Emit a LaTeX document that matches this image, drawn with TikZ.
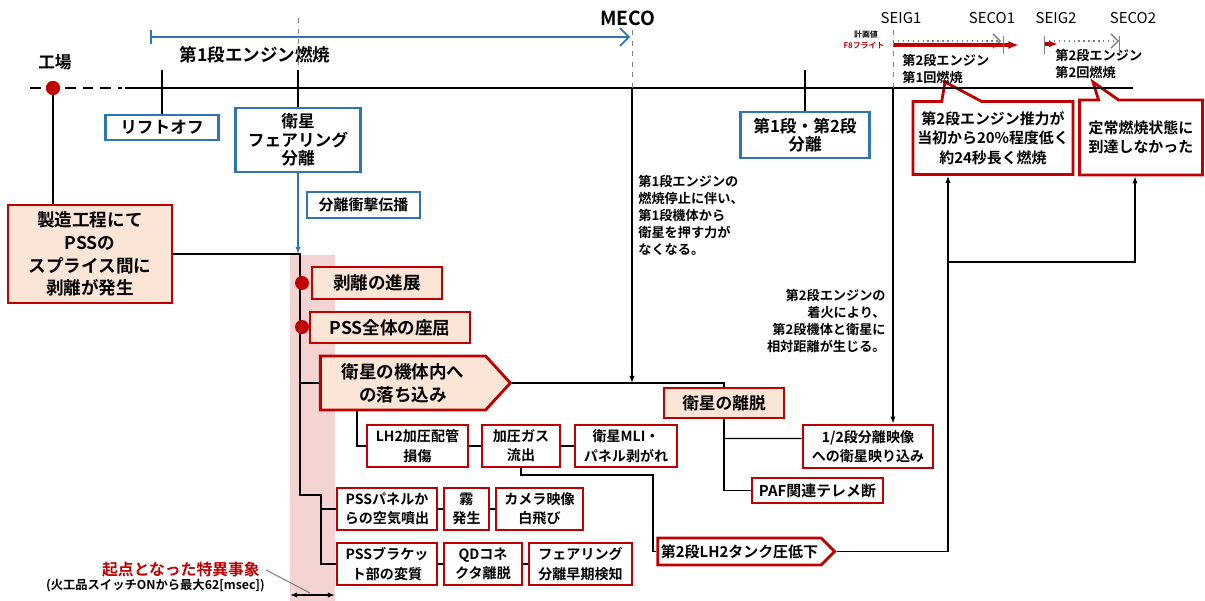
\documentclass[tikz,border=0pt]{standalone}
\usepackage{fontspec}
\setmainfont{Noto Sans CJK JP}[BoldFont={Noto Sans CJK JP Bold}]
\usetikzlibrary{arrows.meta,shapes.arrows,shapes.callouts}

\definecolor{darkred}{HTML}{C00000}
\definecolor{lineblue}{HTML}{2E75B6}
\definecolor{peach}{HTML}{FBE5D6}
\definecolor{bandpink}{HTML}{F4D3D3}

\tikzset{
  bluebox/.style={draw=lineblue, line width=1.5pt, fill=white, align=center, inner sep=1pt,
    font=\bfseries\fontsize{9.5}{10.5}\selectfont},
  redbox/.style={draw=darkred, line width=1.6pt, fill=white, align=center, inner sep=1pt,
    font=\bfseries\fontsize{8}{11}\selectfont},
  peachbox/.style={redbox, fill=peach, font=\bfseries\fontsize{10}{13}\selectfont},
  arrowbox/.style={peachbox, shape=signal, signal to=east, signal pointer angle=95},
  calloutbox/.style={redbox, rectangle callout, font=\bfseries\fontsize{8.5}{11}\selectfont},
  reddot/.style={circle, fill=darkred, inner sep=0pt, minimum size=0.28cm},
  link/.style={line width=0.7pt},
  arr/.style={line width=0.7pt, -{Latex[length=4pt,width=3pt]}},
  note/.style={inner sep=0pt, font=\bfseries\fontsize{7.5}{9.6}\selectfont}
}

\begin{document}
\begin{tikzpicture}[x=0.02cm, y=-0.02cm]
  \useasboundingbox (0,0) rectangle (1205,601);

  % draw pink band
  \fill[bandpink] (290,255) rectangle (335,601);

  % draw callouts
  \node[calloutbox, minimum width=3.2cm, minimum height=1.46cm,
    callout absolute pointer={(945,82)}, callout pointer width=0.8cm] (thrust) at (993,138)
    {第2段エンジン推力が\\当初から20\%程度低く\\約24秒長く燃焼};
  \node[calloutbox, minimum width=2.46cm, minimum height=1.5cm,
    callout absolute pointer={(1093,82)}, callout pointer width=0.4cm] (steady) at (1141,137.5)
    {定常燃焼状態に\\到達しなかった};

  % draw time line
  \draw[line width=1.4pt, dash pattern=on 6pt off 4pt] (30,88) -- (122,88);
  \draw[line width=1.4pt] (125,88) -- (1133,88);
  \coordinate (ticktop) at (0,70);

  % draw factory
  \node[reddot] (factory) at (53,88) {};
  \node[font=\bfseries\fontsize{9.5}{11}\selectfont] (factorylabel) at (55,62) {工場};

  % draw labels on top
  \node[font=\bfseries\fontsize{11}{12}\selectfont] (meco) at (628,18) {MECO};
  \node[font=\bfseries\fontsize{10}{12}\selectfont] (burn1) at (255,55) {第1段エンジン燃焼};
  \foreach \n/\x/\t in {seig1/901/SEIG1, seco1/992/SECO1, seig2/1056/SEIG2, seco2/1133/SECO2}
    \node[font=\fontsize{8.5}{10}\selectfont] (\n) at (\x,18) {\t};
  \node[font=\bfseries\fontsize{4.5}{5}\selectfont] (plan) at (866,35) {計画値};
  \node[font=\bfseries\fontsize{4.5}{5}\selectfont, text=darkred] (f8) at (864,46) {F8フライト};
  \node[note, anchor=west, align=left] (burn2a) at (902,69) {第2段エンジン\\第1回燃焼};
  \node[note, anchor=west, align=left] (burn2b) at (1055,64) {第2段エンジン\\第2回燃焼};

  % draw first stage burn
  \coordinate (burnstart) at (150,37);
  \coordinate (burnend) at (630,37);
  \draw[lineblue, line width=1pt, {Bar[width=8pt]}-{Straight Barb[length=5pt]}] (burnstart) -- (burnend);

  % draw second stage burns
  \draw[gray, dotted, line width=0.8pt, -{Straight Barb[length=4pt]}] (893,41) -- (1001,41);
  \draw[darkred, line width=1.8pt, -{Latex[length=6pt]}] (893,45) -- (1019,45);
  \draw[gray, dotted, line width=0.8pt, -{Straight Barb[length=4pt]}] (1044,41) -- (1119,41);
  \draw[darkred, line width=1.8pt, -{Latex[length=5pt]}] (1044,44) -- (1058,44);
  \foreach \x in {1003,1044,1119}
    \draw[gray, line width=0.5pt] (\x,36) -- (\x,54);

  % draw blue boxes
  \node[bluebox, minimum width=2.26cm, minimum height=0.5cm] (liftoff) at (162,127.5) {リフトオフ};
  \node[bluebox, minimum width=2.5cm, minimum height=1.28cm] (fairing) at (298,140) {衛星\\フェアリング\\分離};
  \node[bluebox, font=\bfseries\fontsize{8.5}{10}\selectfont, minimum width=2.26cm, minimum height=0.52cm] (shock) at (363.5,205) {分離衝撃伝播};
  \node[bluebox, minimum width=2.58cm, minimum height=0.92cm] (stagesep) at (805,135) {第1段・第2段\\分離};
  \foreach \b in {liftoff, fairing, stagesep}
    \draw[line width=1.2pt] (\b.north) -- (\b.north |- ticktop);
  \draw[gray, dashed, line width=0.5pt] (fairing.north |- meco.center) -- (fairing.north |- ticktop);

  % draw event lines
  \coordinate (mecotop) at (632,30);
  \coordinate (mecoline) at (632,88);
  \coordinate (seigtop) at (893,30);
  \coordinate (seigline) at (893,88);
  \draw[gray, dashed, line width=0.5pt] (mecotop) -- (mecoline);
  \draw[gray, dashed, line width=0.5pt] (seigtop) -- (seigline);

  % draw origin
  \node[peachbox, minimum width=3.28cm, minimum height=1.96cm] (origin) at (90,254) {製造工程にて\\PSSの\\スプライス間に\\剥離が発生};
  \draw[link] (factory) -- (factory |- origin.north);
  \node[reddot] (factory) at (53,88) {};

  % draw chain of events
  \node[peachbox, minimum width=2.6cm, minimum height=0.64cm] (peel) at (377,283) {剥離の進展};
  \node[peachbox, minimum width=3.2cm, minimum height=0.62cm] (buckle) at (390,327.5) {PSS全体の座屈};
  \node[arrowbox, minimum width=3.8cm, minimum height=1.08cm] (fall) at (403,383) {衛星の機体内へ\\の落ち込み};
  \node[peachbox, font=\bfseries\fontsize{9.5}{11}\selectfont, minimum width=2.4cm, minimum height=0.6cm] (sepsat) at (724,403) {衛星の離脱};

  \node[redbox, minimum width=2.02cm, minimum height=0.84cm] (lh2) at (417.5,446) {LH2加圧配管\\損傷};
  \node[redbox, minimum width=1.56cm, minimum height=0.84cm] (gas) at (521,446) {加圧ガス\\流出};
  \node[redbox, minimum width=2.04cm, minimum height=0.84cm] (mli) at (626,446) {衛星MLI・\\パネル剥がれ};
  \node[redbox, minimum width=2.0cm, minimum height=0.84cm] (air) at (387,509) {PSSパネルか\\らの空気噴出};
  \node[redbox, minimum width=0.9cm, minimum height=0.84cm] (fog) at (466.5,509) {霧\\発生};
  \node[redbox, minimum width=1.74cm, minimum height=0.84cm] (camera) at (539.5,509) {カメラ映像\\白飛び};
  \node[redbox, minimum width=2.0cm, minimum height=0.84cm] (bracket) at (387,564) {PSSブラケッ\\ト部の変質};
  \node[redbox, minimum width=1.56cm, minimum height=0.84cm] (qd) at (483,564) {QDコネ\\クタ離脱};
  \node[redbox, minimum width=2.06cm, minimum height=0.84cm] (fairdet) at (580.5,564) {フェアリング\\分離早期検知};
  \node[redbox, minimum width=2.6cm, minimum height=0.86cm] (video) at (868,446.5) {1/2段分離映像\\への衛星映り込み};
  \node[redbox, font=\bfseries\fontsize{8.5}{10}\selectfont, minimum width=2.62cm, minimum height=0.5cm] (paf) at (817.5,490.5) {PAF関連テレメ断};
  \node[redbox, shape=signal, signal to=east, signal pointer angle=90, font=\bfseries\fontsize{8.5}{10}\selectfont,
    minimum width=3.54cm, minimum height=0.54cm] (tank) at (739.5,551.5) {第2段LH2タンク圧低下};

  % draw trunk line
  \coordinate (trunktop) at (300,254);
  \coordinate (jog) at (300,495);
  \coordinate (branch) at (321,495);
  \draw[lineblue, line width=1pt, -{Latex[length=4pt,width=3pt]}] (fairing.south) -- (fairing.south |- trunktop);
  \draw[link] (origin.east) -- (trunktop) -- (jog) -- (branch) |- (bracket.west);
  \draw[link] (branch) |- (air.west);
  \node[reddot] (dot1) at (302,283) {};
  \node[reddot] (dot2) at (302,327) {};
  \draw[link] (fall.west -| trunktop) -- (fall.west);

  % draw connectors
  \draw[link] ([xshift=0.76cm]fall.south west) |- (lh2.west);
  \draw[link] (lh2) -- (gas) -- (mli);
  \draw[link] (air) -- (fog) -- (camera);
  \draw[link] (bracket) -- (qd) -- (fairdet);
  \coordinate (gasjog) at (653,475);
  \draw[link] (gas.south) |- (gasjog) |- (tank.west);
  \draw[link] (fall.east) -| (sepsat.north);
  \draw[arr] (mecoline) -- (mecoline |- fall.east);
  \draw[link] (sepsat.south) |- (paf.west);
  \draw[link] (sepsat.south |- video.west) ++(0,-8) -- ([yshift=0.16cm]video.west);
  \draw[arr] (seigline) -- (seigline |- video.north);
  \coordinate (riser) at (948,262);
  \draw[arr] (tank.east) -| (riser) -- (riser |- thrust.south);
  \draw[arr] (riser) -| ([xshift=-0.12cm]steady.south);

  % draw notes
  \node[note, anchor=north west, align=left] (note1) at (638,175) {第1段エンジンの\\燃焼停止に伴い、\\第1段機体から\\衛星を押す力が\\なくなる。};
  \node[note, anchor=north east, align=right] (note2) at (886,289) {第2段エンジンの\\着火により、\\第2段機体と衛星に\\相対距離が生じる。};

  % draw singular event
  \node[font=\bfseries\fontsize{9}{11}\selectfont, text=darkred, anchor=east] (startevent) at (266,570) {起点となった特異事象};
  \node[font=\bfseries\fontsize{7}{9}\selectfont, anchor=east] (startnote) at (271,586) {(火工品スイッチONから最大62[msec])};
  \coordinate (bandL) at (290,595);
  \coordinate (bandR) at (335,595);
  \coordinate (bandmid) at (310,593);
  \draw[line width=1.2pt, {Latex[length=4pt]}-{Latex[length=4pt]}] (bandL) -- (bandR);
  \draw[gray, line width=0.6pt] (startevent.east) -- (bandmid);
\end{tikzpicture}
\end{document}
